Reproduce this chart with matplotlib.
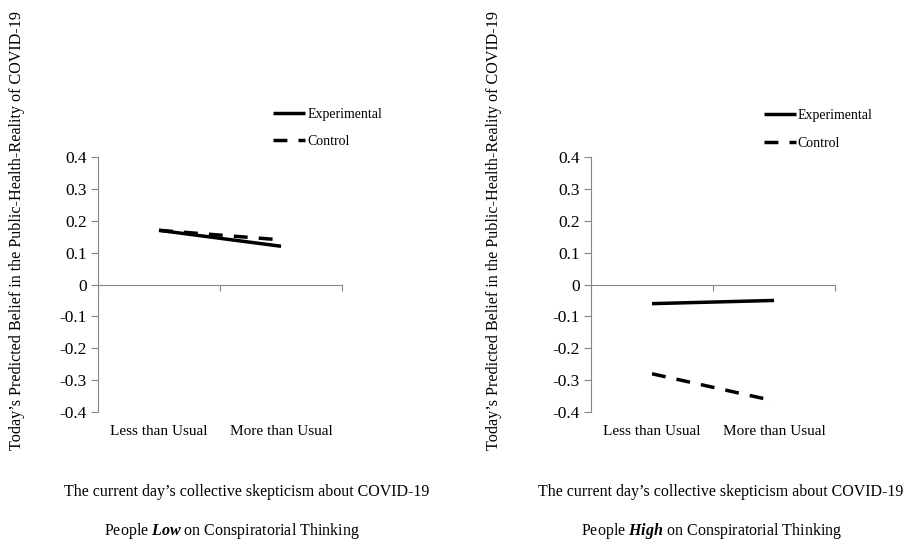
import matplotlib
matplotlib.use("Agg")
import matplotlib.pyplot as plt

# categories and predicted values
categories = ["Less than Usual", "More than Usual"]
low_experimental = [0.17, 0.12]
low_control = [0.17, 0.14]
high_experimental = [-0.06, -0.05]
high_control = [-0.28, -0.365]
y_ticks = [0.4, 0.3, 0.2, 0.1, 0, -0.1, -0.2, -0.3, -0.4]
y_tick_labels = ["0.4", "0.3", "0.2", "0.1", "0", "-0.1", "-0.2", "-0.3", "-0.4"]

plt.rcParams["font.family"] = ["Liberation Serif", "DejaVu Serif"]
plt.rcParams["mathtext.fontset"] = "custom"
plt.rcParams["mathtext.rm"] = "Liberation Serif"
plt.rcParams["mathtext.it"] = "Liberation Serif:italic"
plt.rcParams["mathtext.bf"] = "Liberation Serif:bold"
plt.rcParams["mathtext.bfit"] = "Liberation Serif:italic:bold"
plt.rcParams["lines.scale_dashes"] = False

AXIS_GREY = "#878787"
YLABEL = "Today\u2019s Predicted Belief in the Public-Health-Reality of COVID-19"
XLABEL = "The current day\u2019s collective skepticism about COVID-19"

fig = plt.figure(figsize=(9.04, 5.41), dpi=100)


def panel(left, exp_vals, ctl_vals, word, ylab_x, leg_anchor, xlab_x, title_x):
    ax = fig.add_axes([left, 0.2384, 0.27, 0.4714])
    x = list(range(len(categories)))
    ax.plot(x, exp_vals, color="black", lw=2.5, solid_capstyle="butt", label="Experimental")
    ax.plot(x, ctl_vals, color="black", lw=2.5, dashes=(10, 8), dash_capstyle="butt", label="Control")
    ax.set_xlim(-0.5, 1.5)
    ax.set_ylim(-0.4, 0.4)
    ax.set_yticks(y_ticks)
    ax.set_yticklabels(y_tick_labels)
    ax.tick_params(axis="y", direction="out", length=5, color=AXIS_GREY, labelsize=12.5, pad=3)
    for s in ["top", "right"]:
        ax.spines[s].set_visible(False)
    ax.spines["left"].set_color(AXIS_GREY)
    ax.spines["bottom"].set_color(AXIS_GREY)
    ax.spines["bottom"].set_position(("data", 0))
    ax.set_xticks([-0.5, 0.5, 1.5])
    ax.set_xticklabels([])
    ax.tick_params(axis="x", direction="out", length=4, color=AXIS_GREY)
    sec = ax.secondary_xaxis(0)
    sec.set_xticks(x)
    sec.set_xticklabels(categories)
    sec.tick_params(length=0, labelsize=11, pad=9)
    sec.spines["bottom"].set_visible(False)

    ax.legend(loc="upper left", bbox_to_anchor=leg_anchor, frameon=False, fontsize=10,
              handlelength=2.3, handletextpad=0.15, labelspacing=1.05, borderaxespad=0)

    fig.text(ylab_x, 0.573, YLABEL, rotation=90, ha="center", va="center", fontsize=11.6)
    fig.text(xlab_x, 0.09, XLABEL, ha="center", va="center", fontsize=11.5)
    fig.text(title_x, 0.018, "People $\\mathbfit{" + word + "}$ on Conspiratorial Thinking",
             ha="center", va="center", fontsize=11.5)
    return ax


panel(0.1084, low_experimental, low_control, "Low", 0.019, (0.695, 1.215), 0.273, 0.257)
panel(0.6538, high_experimental, high_control, "High", 0.547, (0.685, 1.21), 0.797, 0.787)

fig.savefig("out.png", dpi=100)
